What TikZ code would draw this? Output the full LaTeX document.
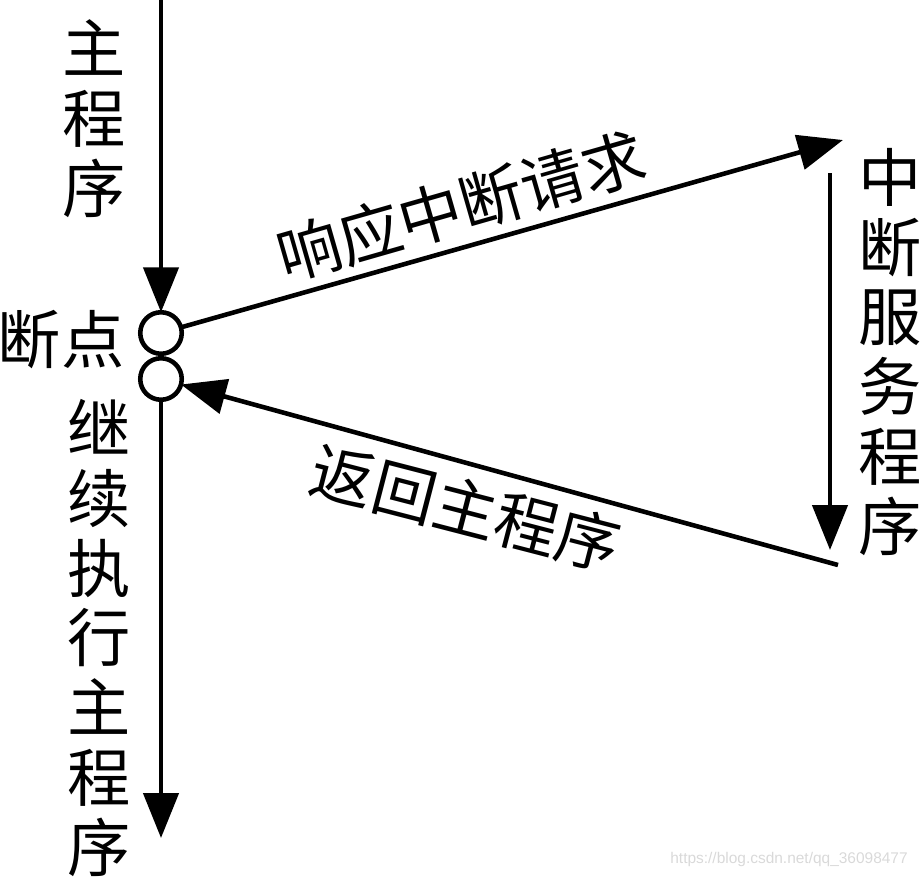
\documentclass[tikz,border=0pt]{standalone}
\usepackage{fontspec}
\newfontfamily\cjk{Noto Sans CJK SC}
\setsansfont{Liberation Sans}
\usetikzlibrary{arrows.meta}

\begin{document}
\begin{tikzpicture}[line width=1.3pt, >={Triangle[length=0.45cm,width=0.35cm]},
  every node/.style={inner sep=0pt, outer sep=0pt},
  lbl/.style={font=\cjk\fontsize{18}{19.9}\selectfont, align=center},
  bp/.style={circle, draw, minimum size=0.415cm}]

\useasboundingbox (0,0) rectangle (9.21,-8.77);

\node[bp] (bp1) at (1.61,-3.33) {};
\node[bp] (bp2) at (1.61,-3.79) {};
\coordinate (mtop) at (1.61,0);
\coordinate (mend) at (1.61,-8.38);
\coordinate (srvin) at (8.43,-1.40);
\coordinate (srvtop) at (8.30,-1.73);
\coordinate (srvend) at (8.30,-5.50);
\coordinate (srvout) at (8.38,-5.65);

\draw[->] (mtop) -- (bp1);
\draw[->] (bp1) -- (srvin);
\draw[->] (srvtop) -- (srvend);
\draw[->] (srvout) -- (bp2);
\draw[->] (bp2) -- (mend);

\node[lbl] (zhu) at (0.94,-1.19) {主\\程\\序};
\node[lbl] (duan) at (0.61,-3.40) {断点};
\node[lbl] (jixu) at (0.99,-6.38) {继\\续\\执\\行\\主\\程\\序};
\node[lbl] (fuwu) at (8.90,-3.52) {中\\断\\服\\务\\程\\序};
\node[lbl, rotate=16] (xiangying) at (4.61,-2.06) {响应中断请求};
\node[lbl, rotate=-14.5] (fanhui) at (4.66,-5.08) {返回主程序};

\node[font=\sffamily\fontsize{4.4}{5}\selectfont, text=black!15] (wm) at (7.89,-8.59) {https://blog.csdn.net/qq\_36098477};
\end{tikzpicture}
\end{document}
